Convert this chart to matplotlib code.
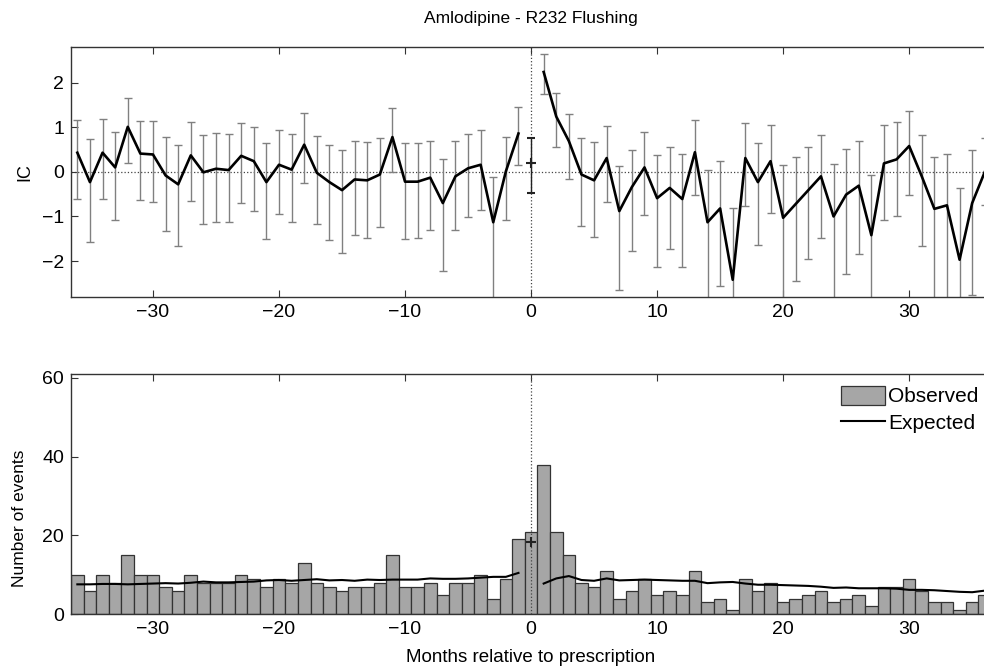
import matplotlib
matplotlib.use("Agg")
import matplotlib.pyplot as plt
import numpy as np

# months relative to prescription
months_before = list(range(-36, 0))
months_after = list(range(1, 37))

# IC estimates with interval limits (lower limits below -2.8 are off the chart)
ic_before = [0.43, -0.23, 0.43, 0.10, 1.01, 0.41, 0.39, -0.08, -0.28, 0.37, -0.01, 0.07,
             0.04, 0.36, 0.24, -0.23, 0.16, 0.05, 0.61, -0.02, -0.23, -0.41, -0.17, -0.19,
             -0.06, 0.78, -0.22, -0.22, -0.13, -0.70, -0.10, 0.08, 0.16, -1.13, 0.01, 0.86]
ic_hi_before = [1.16, 0.73, 1.18, 0.90, 1.65, 1.15, 1.15, 0.78, 0.61, 1.12, 0.83, 0.88,
                0.85, 1.09, 1.01, 0.64, 0.95, 0.85, 1.31, 0.80, 0.61, 0.50, 0.69, 0.67,
                0.76, 1.44, 0.64, 0.64, 0.69, 0.28, 0.69, 0.85, 0.93, -0.11, 0.78, 1.46]
ic_lo_before = [-0.61, -1.58, -0.61, -1.09, 0.20, -0.64, -0.67, -1.33, -1.67, -0.66, -1.16, -1.12,
                -1.13, -0.69, -0.88, -1.51, -0.94, -1.13, -0.26, -1.17, -1.52, -1.81, -1.42, -1.48,
                -1.23, -0.01, -1.51, -1.48, -1.31, -2.23, -1.31, -1.01, -0.86, -3.60, -1.09, 0.16]

ic_zero, ic_hi_zero, ic_lo_zero = 0.19, 0.75, -0.48

ic_after = [2.24, 1.24, 0.69, -0.06, -0.19, 0.31, -0.88, -0.34, 0.10, -0.59, -0.36, -0.61,
            0.44, -1.13, -0.82, -2.42, 0.31, -0.23, 0.24, -1.03, -0.72, -0.41, -0.10, -1.00,
            -0.51, -0.31, -1.42, 0.19, 0.28, 0.58, -0.10, -0.83, -0.75, -1.97, -0.70, 0.00]
ic_hi_after = [2.65, 1.78, 1.29, 0.76, 0.68, 1.02, 0.14, 0.49, 0.89, 0.37, 0.55, 0.40,
               1.16, 0.05, 0.25, -0.81, 1.09, 0.65, 1.06, 0.15, 0.34, 0.56, 0.82, 0.17,
               0.52, 0.69, -0.06, 1.04, 1.12, 1.36, 0.83, 0.34, 0.41, -0.36, 0.50, 0.75]
ic_lo_after = [1.75, 0.56, -0.16, -1.22, -1.45, -0.68, -2.66, -1.78, -0.97, -2.13, -1.73, -2.14,
               -0.52, -3.60, -2.55, -4.00, -0.77, -1.65, -0.92, -3.60, -2.44, -1.95, -1.48, -3.60,
               -2.28, -1.84, -3.60, -1.09, -1.00, -0.52, -1.67, -3.60, -3.60, -3.60, -2.76, -0.75]

# observed / expected number of events
observed_before = [10, 6, 10, 8, 15, 10, 10, 7, 6, 10, 8, 8, 8, 10, 9, 7, 9, 8,
                   13, 8, 7, 6, 7, 7, 8, 15, 7, 7, 8, 5, 8, 8, 10, 4, 9, 19]
observed_zero = 21
observed_after = [38, 21, 15, 8, 7, 11, 4, 6, 9, 5, 6, 5, 11, 3, 4, 1, 9, 6,
                  8, 3, 4, 5, 6, 3, 4, 5, 2, 7, 7, 9, 6, 3, 3, 1, 3, 5]

expected_before = [7.6, 7.6, 7.7, 7.7, 7.6, 7.7, 7.8, 7.9, 7.8, 8.0, 8.3, 8.1,
                   8.1, 8.2, 8.3, 8.6, 8.7, 8.5, 8.7, 8.9, 8.6, 8.7, 8.5, 8.8,
                   8.7, 8.8, 8.8, 8.8, 9.1, 9.0, 9.0, 9.1, 9.3, 9.5, 9.5, 10.5]
expected_zero = 18.3
expected_after = [7.8, 9.1, 9.7, 8.7, 8.5, 9.1, 8.6, 8.7, 8.8, 8.7, 8.6, 8.5,
                  8.5, 7.9, 8.1, 8.2, 7.8, 7.5, 7.5, 7.4, 7.3, 7.2, 7.0, 6.7,
                  6.8, 6.6, 6.6, 6.6, 6.5, 6.2, 6.2, 6.1, 5.9, 5.7, 5.6, 6.0]

xticks = [-30, -20, -10, 0, 10, 20, 30]

plt.rcParams['font.family'] = ['Liberation Sans', 'DejaVu Sans']
plt.rcParams['font.size'] = 12
plt.rcParams['axes.unicode_minus'] = True

fig = plt.figure(figsize=(9.84, 6.69), dpi=100)
ax1 = fig.add_axes([0.0722, 0.5565, 0.935, 0.3732])
ax2 = fig.add_axes([0.0722, 0.0818, 0.935, 0.3592])

spine_col = '#333333'
err_col = '#808080'
bar_col = '#a6a6a6'

def style_axes(ax):
    for s in ax.spines.values():
        s.set_color(spine_col)
        s.set_linewidth(1.0)
    ax.tick_params(direction='in', top=True, right=True, length=5,
                   color=spine_col, labelsize=14, pad=5)
    ax.set_xlim(-36.5, 36.5)
    ax.set_xticks(xticks)

# top panel: IC over time
mb = np.array(months_before)
ma = np.array(months_after)
for m, ic, hi, lo in [(mb, ic_before, ic_hi_before, ic_lo_before),
                      (ma, ic_after, ic_hi_after, ic_lo_after)]:
    ic = np.array(ic)
    ax1.errorbar(m, ic, yerr=[ic - np.array(lo), np.array(hi) - ic], fmt='none',
                 ecolor=err_col, elinewidth=1.0, capsize=3, capthick=1.0, zorder=2)
    ax1.plot(m, ic, color='black', linewidth=1.9, zorder=3)
ax1.errorbar([0], [ic_zero], yerr=[[ic_zero - ic_lo_zero], [ic_hi_zero - ic_zero]],
             fmt='+', color='#222222', ecolor='#222222', elinewidth=1.0, capsize=3,
             markersize=7, mew=1.5, zorder=3)
ax1.axhline(0, color='#444444', linestyle=':', linewidth=0.9, zorder=1)
ax1.axvline(0, color='#444444', linestyle=':', linewidth=0.9, zorder=1)
ax1.set_ylim(-2.8, 2.8)
ax1.set_yticks([-2, -1, 0, 1, 2])
ax1.set_ylabel('IC', fontsize=13, labelpad=6)
ax1.set_title('Amlodipine - R232 Flushing', fontsize=12.5, pad=17)
style_axes(ax1)

# bottom panel: observed and expected counts
bars = ax2.bar(mb, observed_before, width=1.0, color=bar_col, edgecolor='#333333',
               linewidth=0.9, zorder=2)
ax2.bar([0], [observed_zero], width=1.0, color=bar_col, edgecolor='#333333',
        linewidth=0.9, zorder=2)
ax2.bar(ma, observed_after, width=1.0, color=bar_col, edgecolor='#333333',
        linewidth=0.9, zorder=2)
line, = ax2.plot(mb, expected_before, color='black', linewidth=1.5, zorder=3)
ax2.plot(ma, expected_after, color='black', linewidth=1.5, zorder=3)
ax2.plot([0], [expected_zero], marker='+', color='#222222', markersize=7, mew=1.5, zorder=4)
ax2.axvline(0, color='#444444', linestyle=':', linewidth=0.9, zorder=3)
ax2.set_ylim(0, 61)
ax2.set_yticks([0, 20, 40, 60])
ax2.set_ylabel('Number of events', fontsize=12.5)
ax2.yaxis.set_label_coords(-0.048, 0.40)
ax2.set_xlabel('Months relative to prescription', fontsize=13.5, labelpad=8)
style_axes(ax2)
ax2.legend([bars, line], ['Observed', 'Expected'], loc='upper right',
           bbox_to_anchor=(0.986, 0.95), frameon=False, fontsize=15,
           handlelength=2.1, handleheight=1.0, handletextpad=0.15,
           borderaxespad=0, borderpad=0, labelspacing=0.3)

fig.savefig('out.png', dpi=100)
